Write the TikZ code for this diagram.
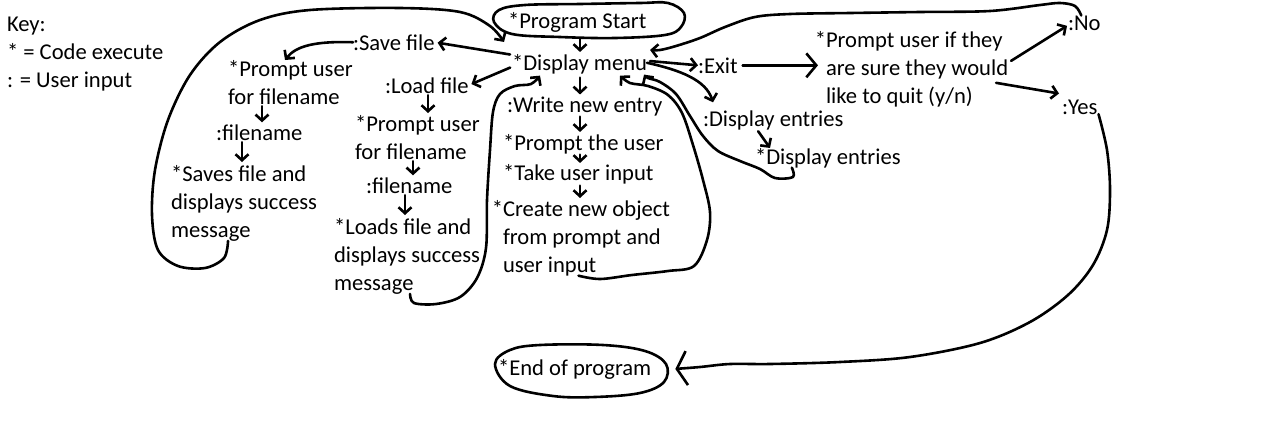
\documentclass[tikz,border=0pt]{standalone}
\usepackage{fontspec}
\setmainfont{Carlito}
\usetikzlibrary{arrows.meta}
\tikzset{
  txt/.style={inner sep=0pt, outer sep=0pt, font=\fontsize{22.6}{28}\selectfont, text=black},
  ml/.style={txt, align=left, anchor=north west},
  sl/.style={txt, anchor=base west},
  stroke/.style={line width=2.6pt, line cap=round, line join=round, black},
  arr/.style={stroke, -{Straight Barb[length=6pt,width=13pt]}},
  bigarr/.style={stroke, -{Straight Barb[length=10pt,width=24pt]}},
  loop/.style={arr, smooth, tension=0.55},
}
\begin{document}
\begin{tikzpicture}[x=1pt, y=-1pt]
\useasboundingbox (0,0) rectangle (1265,421);

% columns for vertical arrows
\coordinate (colM) at (580,0);
\coordinate (colA) at (262,0);
\coordinate (colB) at (242,0);
\coordinate (colC) at (428,0);
\coordinate (colD) at (413,0);
\coordinate (colE) at (405,0);

% key
\node[ml] (key) at (7,17) {Key:\\* = Code execute\\: = User input};

% main column
\node[sl] (start) at (508,28) {*Program Start};
\node[sl] (menu) at (512,70) {*Display menu};
\node[sl] (write) at (507,112) {:Write new entry};
\node[sl] (prompt3) at (503,150) {*Prompt the user};
\node[sl] (take) at (503,180) {*Take user input};
\node[ml] (create) at (503,200) {\llap{*}Create new object\\from prompt and\\user input};

% save branch
\node[sl] (savefile) at (353,50) {:Save file};
\node[ml] (prompt1) at (228,60) {*Prompt user\\for filename};
\node[sl] (fname1) at (216,140) {:filename};
\node[ml] (saves) at (171,165) {*Saves file and\\displays success\\message};

% load branch
\node[sl] (loadfile) at (385,93) {:Load file};
\node[ml] (prompt2) at (355,115) {*Prompt user\\for filename};
\node[sl] (fname2) at (366,193) {:filename};
\node[ml] (loads) at (334,218) {*Loads file and\\displays success\\message};

% right branch
\node[sl] (exit) at (698,73) {:Exit};
\node[sl] (disp1) at (703,126) {:Display entries};
\node[sl] (disp2) at (755,164) {*Display entries};
\node[ml] (quit) at (826,31) {\llap{*}Prompt user if they\\are sure they would\\like to quit (y/n)};
\node[sl] (no) at (1068,30) {:No};
\node[sl] (yes) at (1062,114) {:Yes};

\node[sl] (endp) at (498,375) {*End of program};

% hand-drawn outlines
\draw[stroke] plot[smooth cycle, tension=0.6] coordinates {(494,22) (499,10) (525,5) (580,4) (640,3) (668,3) (684,13) (681,27) (665,35) (615,38) (560,37) (512,34)};
\coordinate (startbot) at (580,39);
\draw[stroke] plot[smooth cycle, tension=0.6] coordinates {(495,364) (510,350) (540,345) (603,345) (645,351) (666,364) (664,382) (640,393) (595,397) (553,396) (510,386)};

% main column arrows
\draw[arr, shorten >=2pt] (startbot) -- (menu.north -| colM);
\draw[arr, shorten <=4pt, shorten >=2pt] (menu.south -| colM) -- (write.north -| colM);
\draw[arr, shorten <=1pt, shorten >=2pt] (write.south -| colM) -- (prompt3.north -| colM);
\draw[arr, shorten <=1pt, shorten >=0pt] (prompt3.south -| colM) -- ([yshift=1pt]take.north -| colM);
\draw[arr, shorten <=2pt, shorten >=2pt] (take.south -| colM) -- (create.north -| colM);

% save branch arrows
\draw[arr, shorten <=2pt, shorten >=3pt] ([yshift=9pt]menu.west) -- (savefile.east);
\draw[arr] (savefile.west) .. controls (315,41) and (296,46) .. ([xshift=57pt]prompt1.north west);
\draw[arr, shorten <=2pt, shorten >=2pt] (prompt1.south -| colA) -- (fname1.north -| colA);
\draw[arr, shorten <=2pt, shorten >=3pt] (fname1.south -| colB) -- (saves.north -| colB);
\draw[loop] plot coordinates {([xshift=-16pt]saves.south) (224,258) (205,268) (178,266) (158,250) (152,215) (155,170) (168,120) (190,75) (220,42) (260,20) (310,10) (400,8) (460,12) (490,26) ([shift={(-8pt,12pt)}]menu.north west)};

% load branch arrows
\draw[arr, shorten <=2pt, shorten >=3pt] ([yshift=-3pt]menu.west) -- (loadfile.east);
\draw[arr, shorten <=2pt, shorten >=2pt] (loadfile.south -| colC) -- (prompt2.north -| colC);
\draw[arr, shorten <=2pt, shorten >=2pt] (prompt2.south -| colD) -- (fname2.north -| colD);
\draw[arr, shorten <=2pt, shorten >=3pt] (fname2.south -| colE) -- (loads.north -| colE);
\draw[loop] plot coordinates {([xshift=3pt]loads.south) (414,303) (436,304) (460,297) (477,278) (486,248) (487,200) (490,150) (493,112) (500,94) (515,86) (531,84) ([shift={(28pt,-2pt)}]menu.south west)};

% create loop
\draw[loop] plot coordinates {([xshift=-8pt]create.south) (600,279) (632,275) (668,271) (694,266) (707,240) (710,212) (703,180) (693,145) (682,113) (668,95) (648,86) (630,83) ([shift={(108pt,-2pt)}]menu.south west)};

% right branch
\draw[arr, shorten <=3pt, shorten >=0pt] ([yshift=3pt]menu.east) -- (exit.west);
\draw[bigarr, shorten <=5pt, shorten >=8pt] (exit.east) -- (exit.east -| quit.west);
\draw[arr] ([shift={(3pt,8pt)}]quit.east) -- ([shift={(-1pt,-3pt)}]no.west);
\draw[arr] ([shift={(-12pt,-14pt)}]quit.east) -- ([shift={(-3pt,6pt)}]yes.north west);
\draw[arr] ([yshift=1pt]menu.east) .. controls (680,70) and (706,80) .. ([shift={(10pt,8pt)}]disp1.north west);
\draw[arr, shorten <=2pt] ([xshift=54pt]disp1.south west) -- ([xshift=15pt]disp2.north west);
\draw[loop] plot coordinates {([xshift=-36pt]disp2.south) (793,177) (775,178) (760,169) (740,161) (718,151) (703,136) (690,116) (676,94) (660,82) (648,78) ([shift={(-3pt,-1pt)}]menu.south east)};
\draw[loop] plot coordinates {([xshift=-3pt]no.north) (1075,6) (1060,3) (1040,5) (990,11) (920,12) (850,13) (790,14) (755,17) (725,27) (700,38) (676,46) (660,50) ([shift={(3pt,4pt)}]menu.north east)};
\draw[loop, -{Straight Barb[length=10pt,width=34pt]}] plot coordinates {([xshift=1pt]yes.south east) (1107,150) (1110,190) (1107,230) (1093,265) (1068,295) (1030,322) (980,343) (910,357) (840,362) (770,364) (730,364) (700,367) ([xshift=24pt]endp.east)};
\end{tikzpicture}
\end{document}
